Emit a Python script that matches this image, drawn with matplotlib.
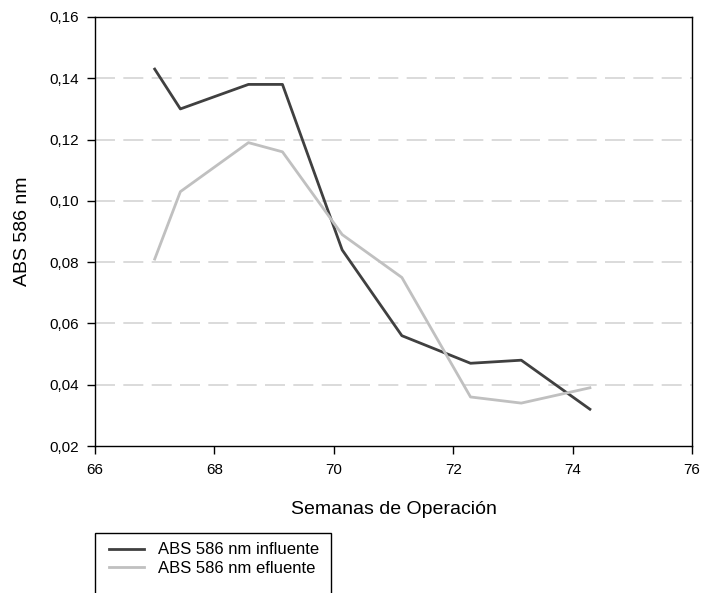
import matplotlib.pyplot as plt
from matplotlib.patches import Rectangle
from matplotlib.ticker import FuncFormatter

plt.rcParams['font.family'] = ['Liberation Sans', 'DejaVu Sans']

semanas = [67.0, 67.43, 68.57, 69.14, 70.14, 71.14, 72.29, 73.14, 74.29]
abs_influente = [0.143, 0.130, 0.138, 0.138, 0.084, 0.056, 0.047, 0.048, 0.032]
abs_efluente = [0.081, 0.103, 0.119, 0.116, 0.089, 0.075, 0.036, 0.034, 0.039]

x_ticks = [66, 68, 70, 72, 74, 76]
y_ticks = [0.02, 0.04, 0.06, 0.08, 0.10, 0.12, 0.14, 0.16]

fig = plt.figure(figsize=(7.04, 5.93), dpi=100)
ax = fig.add_axes([95 / 704, 1 - 446 / 593, 597 / 704, 429 / 593])

for y in y_ticks[1:-1]:
    ax.axhline(y, color='#d4d4d4', lw=1.2, dashes=(12, 5), zorder=0)

l1, = ax.plot(semanas, abs_influente, color='#404040', lw=2.0,
              label='ABS 586 nm influente')
l2, = ax.plot(semanas, abs_efluente, color='#c0c0c0', lw=2.0,
              label='ABS 586 nm efluente')

ax.set_xlim(66, 76)
ax.set_ylim(0.02, 0.16)
ax.set_xticks(x_ticks)
ax.set_yticks(y_ticks)
ax.yaxis.set_major_formatter(FuncFormatter(lambda v, p: f'{v:.2f}'.replace('.', ',')))
ax.tick_params(direction='out', length=5.5, width=1, labelsize=11)
ax.tick_params(axis='y', pad=6)
ax.tick_params(axis='x', pad=7)
for s in ax.spines.values():
    s.set_linewidth(1.0)

ax.set_xlabel('Semanas de Operación', fontsize=14, labelpad=17)
ax.set_ylabel('ABS 586 nm', fontsize=14, labelpad=13)

# legend box runs past the bottom of the figure
fig.patches.append(Rectangle((95 / 704, -0.05), 236 / 704, 0.05 + 1 - 533 / 593,
                             transform=fig.transFigure, fill=False,
                             edgecolor='black', lw=1.0))
fig.legend(handles=[l1, l2], loc='upper left',
           bbox_to_anchor=(106 / 704, 1 - 539 / 593), frameon=False,
           fontsize=12, handlelength=2.1, handletextpad=0.85,
           labelspacing=0.2, borderpad=0.2, borderaxespad=0)

fig.savefig('out.png', dpi=100)
